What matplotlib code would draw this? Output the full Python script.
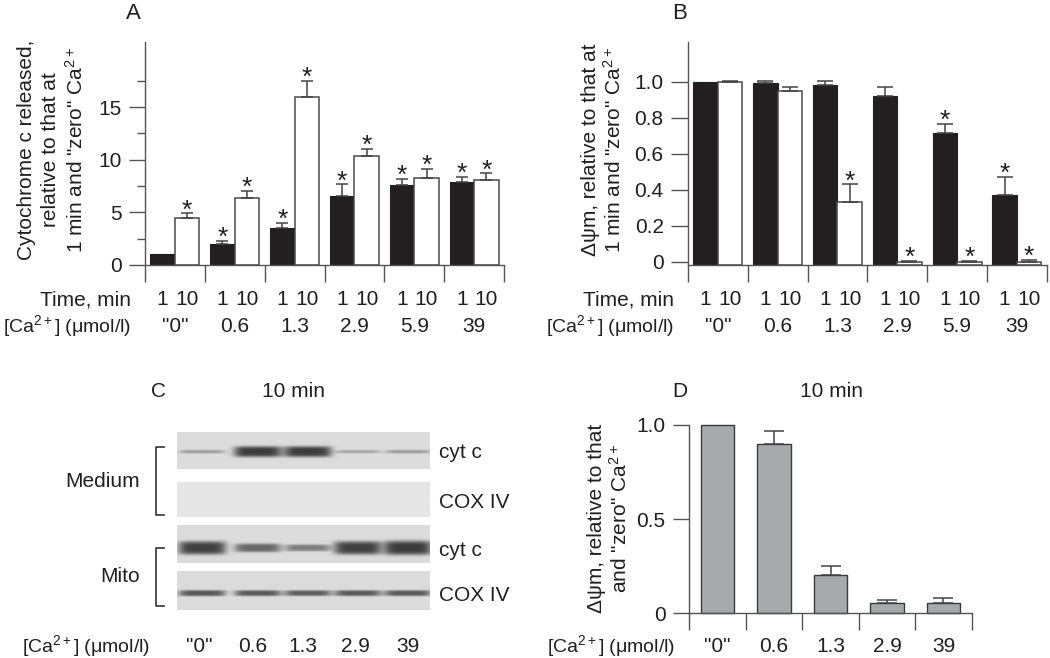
"""Cytochrome c release and membrane potential vs Ca2+ (panels A-D)."""

import matplotlib

matplotlib.use("Agg")
import matplotlib.pyplot as plt
import matplotlib.transforms as mtransforms
import numpy as np

W, H = 1050, 658
INK = "#231f20"
AXIS = "#555555"
GRAY_BAR = "#a7a9ac"
FS = 15
CA_FS = 14

plt.rcParams["font.family"] = ["Liberation Sans", "DejaVu Sans"]
plt.rcParams["mathtext.fontset"] = "custom"
plt.rcParams["mathtext.rm"] = "Liberation Sans"
plt.rcParams["mathtext.it"] = "Liberation Sans:italic"
plt.rcParams["font.size"] = FS
plt.rcParams["text.color"] = INK

CA_LABEL = "[Ca$^{2+}$] (\u03bcmol/l)"

# --- data -----------------------------------------------------------------
ca_ab = ['"0"', "0.6", "1.3", "2.9", "5.9", "39"]
times = ["1", "10"]

# A: cytochrome c released (relative)
cyt_1 = [1.0, 2.0, 3.5, 6.6, 7.6, 7.9]
cyt_1_err = [0.0, 0.3, 0.5, 1.05, 0.6, 0.5]
cyt_1_sig = [False, True, True, True, True, True]
cyt_10 = [4.5, 6.35, 16.0, 10.4, 8.25, 8.05]
cyt_10_err = [0.4, 0.7, 1.5, 0.6, 0.85, 0.65]
cyt_10_sig = [True, True, True, True, True, True]

# B: delta psi m (relative)
psi_1 = [1.0, 0.995, 0.983, 0.922, 0.717, 0.37]
psi_1_err = [0.0, 0.01, 0.02, 0.05, 0.05, 0.10]
psi_1_sig = [False, False, False, False, True, True]
psi_10 = [0.997, 0.95, 0.332, 0.0, 0.0, 0.0]
psi_10_err = [0.008, 0.02, 0.098, 0.005, 0.005, 0.01]
psi_10_sig = [False, False, True, True, True, True]

# D: delta psi m at 10 min
ca_d = ['"0"', "0.6", "1.3", "2.9", "39"]
psi_d = [1.0, 0.9, 0.202, 0.055, 0.055]
psi_d_err = [0.0, 0.07, 0.048, 0.018, 0.025]

# C: western blot band strengths per lane (0 = no band)
blot_rows = ["cyt c", "COX IV", "cyt c", "COX IV"]
band_med_cyt = [0.25, 0.95, 0.95, 0.2, 0.25]
band_med_cox = [0.0, 0.0, 0.0, 0.0, 0.0]
band_mito_cyt = [0.9, 0.6, 0.45, 0.9, 0.95]
band_mito_cox = [0.72, 0.7, 0.68, 0.7, 0.7]

fig = plt.figure(figsize=(W / 100, H / 100), dpi=100)


def box(x0, y0, x1, y1):
    return [x0 / W, 1 - y1 / H, (x1 - x0) / W, (y1 - y0) / H]


def ftext(x, y, s, **kw):
    fig.text(x / W, 1 - y / H, s, **kw)


def style_axis(ax, n, ticklen):
    for side in ("top", "right"):
        ax.spines[side].set_visible(False)
    for side in ("left", "bottom"):
        ax.spines[side].set_color(AXIS)
        ax.spines[side].set_linewidth(1.0)
    ax.set_xlim(-0.5, n - 0.5)
    ax.set_xticks(np.arange(-0.5, n))
    ax.set_xticklabels([])
    ax.tick_params(axis="x", length=12, width=1.0, color=AXIS)
    ax.tick_params(axis="y", length=ticklen, width=1.0, color=AXIS, pad=5.5,
                   labelsize=FS, labelcolor=INK)


def errs_and_stars(ax, x, vals, err, sig, capsize):
    x = np.asarray(x)
    vals = np.asarray(vals)
    err = np.asarray(err)
    m = err > 0
    ax.errorbar(x[m], vals[m], yerr=[np.zeros(m.sum()), err[m]], fmt="none",
                ecolor="#444444", elinewidth=1.1, capsize=capsize, capthick=1.1, zorder=3)
    for xi, v, e, s in zip(x, vals, err, sig):
        if s:
            ax.annotate("*", xy=(xi, v + e), xytext=(0, -3), textcoords="offset points",
                        ha="center", va="baseline", fontsize=19)


def paired_panel(ax, v1, e1, s1, v10, e10, s10, base, capsize):
    g = np.arange(len(v1))
    off, w = 0.205, 0.41
    ax.bar(g - off, np.array(v1) - base, w, bottom=base, color=INK, edgecolor=INK,
           linewidth=0.8, zorder=2)
    ax.bar(g + off, np.array(v10) - base, w, bottom=base, color="white",
           edgecolor="#4a4a4a", linewidth=1.1, zorder=2)
    errs_and_stars(ax, g - off, v1, e1, s1, capsize)
    errs_and_stars(ax, g + off, v10, e10, s10, capsize)
    tr = mtransforms.blended_transform_factory(ax.transData, fig.transFigure)
    for i, lab in enumerate(ca_ab):
        ax.text(i - off, 1 - 305 / H, times[0], transform=tr, ha="center", va="baseline")
        ax.text(i + off, 1 - 305 / H, times[1], transform=tr, ha="center", va="baseline")
        ax.text(i, 1 - 332 / H, lab, transform=tr, ha="center", va="baseline")


# --- panel A -------------------------------------------------------------
axA = fig.add_axes(box(145, 42, 504, 265))
style_axis(axA, 6, 11.3)
axA.set_ylim(0, 21.18)
axA.set_yticks([0, 5, 10, 15])
axA.set_yticks([2.5, 7.5, 12.5, 17.5], minor=True)
axA.tick_params(axis="y", which="minor", length=5.5, width=1.0, color=AXIS)
paired_panel(axA, cyt_1, cyt_1_err, cyt_1_sig, cyt_10, cyt_10_err, cyt_10_sig, 0, 4.5)
ftext(131, 305, "Time, min", ha="right", va="baseline")
ftext(131, 332, CA_LABEL, ha="right", va="baseline", fontsize=CA_FS)
ftext(52, 150, 'Cytochrome c released,\nrelative to that at\n1 min and "zero" Ca$^{2+}$',
      rotation=90, ha="center", va="center", multialignment="center", linespacing=1.3)
ftext(133, 19, "A", ha="center", va="baseline", fontsize=16)

# --- panel B -------------------------------------------------------------
axB = fig.add_axes(box(688, 41.7, 1046.7, 265))
style_axis(axB, 6, 12)
base_b = -0.018
axB.set_ylim(base_b, 1.222)
axB.set_yticks([0, 0.2, 0.4, 0.6, 0.8, 1.0])
axB.set_yticklabels(["0", "0.2", "0.4", "0.6", "0.8", "1.0"])
paired_panel(axB, psi_1, psi_1_err, psi_1_sig, psi_10, psi_10_err, psi_10_sig, base_b, 6)
ftext(674, 305, "Time, min", ha="right", va="baseline")
ftext(674, 332, CA_LABEL, ha="right", va="baseline", fontsize=CA_FS)
ftext(603, 150, '\u0394\u03c8m, relative to that at\n1 min and "zero" Ca$^{2+}$',
      rotation=90, ha="center", va="center", multialignment="center", linespacing=1.2)
ftext(680, 19, "B", ha="center", va="baseline", fontsize=16)

# --- panel C (blot) ------------------------------------------------------
axC = fig.add_axes([0, 0, 525 / W, (H - 370) / H])
axC.axis("off")

lane_x = [201.7, 257.3, 307.3, 357.3, 407.3]
strips = [(432.3, 469.3, 451.7, 0.86, 1.0), (482.3, 516.7, 499.5, 0.9, 1.0),
          (526.0, 563.3, 548.3, 0.86, 1.3), (571.7, 610.0, 593.3, 0.86, 0.75)]
bands = [band_med_cyt, band_med_cox, band_mito_cyt, band_mito_cox]
x0, x1 = 176.7, 429.3
for (y0, y1, yc, bg, th), row in zip(strips, bands):
    xs = np.arange(x0, x1, 0.5)
    ys = np.arange(y0, y1, 0.5)
    X, Y = np.meshgrid(xs, ys)
    img = np.full(X.shape, bg)
    for cx, s in zip(lane_x, row):
        if s <= 0:
            continue
        hw = 22 + 2 * s
        hh = (1.2 + 4.5 * s ** 1.5) * th
        amp = 0.65 * s ** 0.7
        img -= amp * np.exp(-((X - cx) / hw) ** 6) * np.exp(-((Y - yc) / hh) ** 4)
    axC.imshow(img, extent=(x0, x1, y1, y0), cmap="gray", vmin=0, vmax=1,
               interpolation="bilinear", aspect="auto")
axC.set_xlim(0, 525)
axC.set_ylim(H, 370)

for ya, yb in [(446.7, 515), (548.3, 606)]:
    axC.plot([164, 156, 156, 164], [ya, ya, yb, yb], color="#333333", lw=1.2)

for lab, yb in zip(blot_rows, [458.5, 507.5, 555.5, 601]):
    ftext(439, yb, lab, ha="left", va="baseline")
ftext(140, 486.7, "Medium", ha="right", va="baseline")
ftext(140, 581.7, "Mito", ha="right", va="baseline")
ftext(158, 397, "C", ha="center", va="baseline")
ftext(293, 397, "10 min", ha="center", va="baseline")
ftext(21.7, 652.5, CA_LABEL, ha="left", va="baseline", fontsize=CA_FS)
for cx, lab in zip([199.3, 252.3, 303.3, 355, 408.3], ca_d):
    ftext(cx, 652.5, lab, ha="center", va="baseline")

# --- panel D -------------------------------------------------------------
axD = fig.add_axes(box(689.3, 425, 971.7, 613.3))
style_axis(axD, 5, 11.5)
axD.set_ylim(0, 1.0)
axD.set_yticks([0, 0.5, 1.0])
axD.set_yticklabels(["0", "0.5", "1.0"])
gd = np.arange(len(psi_d))
axD.bar(gd, psi_d, 0.6, color=GRAY_BAR, edgecolor="#3a3a3a", linewidth=1.0,
        zorder=2, clip_on=False)
errs_and_stars(axD, gd, psi_d, psi_d_err, [False] * len(psi_d), 7.5)
trD = mtransforms.blended_transform_factory(axD.transData, fig.transFigure)
for i, lab in enumerate(ca_d):
    axD.text(i, 1 - 652.5 / H, lab, transform=trD, ha="center", va="baseline")
ftext(675, 652.5, CA_LABEL, ha="right", va="baseline", fontsize=CA_FS)
ftext(609, 518, '\u0394\u03c8m, relative to that\nand "zero" Ca$^{2+}$',
      rotation=90, ha="center", va="center", multialignment="center", linespacing=1.2)
ftext(680, 397, "D", ha="center", va="baseline")
ftext(831, 397, "10 min", ha="center", va="baseline")

fig.savefig("out.png", dpi=100)
print("Wrote out.png")
